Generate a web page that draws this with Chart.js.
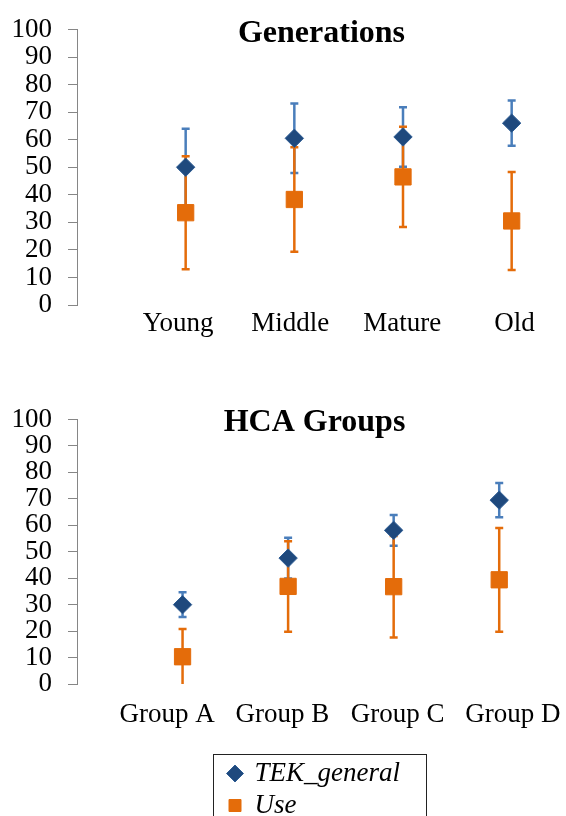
<!DOCTYPE html>
<html><head><meta charset="utf-8">
<script src="https://cdn.jsdelivr.net/npm/chart.js@4.4.1/dist/chart.umd.min.js"></script>
<style>
html,body{margin:0;padding:0;background:#fff;overflow:hidden;width:566px;height:816px;}
#c1{position:absolute;left:0;top:0;width:566px;height:340px;}
#c2{position:absolute;left:0;top:390px;width:566px;height:350px;}
#lg{position:absolute;left:213px;top:754px;width:212px;height:170px;border:1px solid #222;background:#fff;}
#c3{position:absolute;left:0;top:0;width:212px;height:170px;}
</style></head><body>
<canvas id="c1" width="566" height="340"></canvas>
<canvas id="c2" width="566" height="350"></canvas>
<div id="lg"><canvas id="c3" width="212" height="170"></canvas></div>
<script>
// ---- data ----
const seriesNames = ['TEK_general', 'Use'];
const yTicks = [0, 10, 20, 30, 40, 50, 60, 70, 80, 90, 100];

const genTitle = 'Generations';
const genCategories = ['Young', 'Middle', 'Mature', 'Old'];
const genTek = [50, 60.5, 61, 66];
const genTekErr = [14, 12.6, 10.8, 8.2];
const genUse = [33.5, 38.3, 46.5, 30.5];
const genUseErr = [20.5, 19, 18.2, 17.8];

const hcaTitle = 'HCA Groups';
const hcaCategories = ['Group A', 'Group B', 'Group C', 'Group D'];
const hcaTek = [30, 47.6, 58.1, 69.5];
const hcaTekErr = [4.7, 7.7, 5.8, 6.5];
const hcaUse = [10.3, 36.9, 36.8, 39.4];
const hcaUseErr = [10.5, 17.1, 19.2, 19.6];

// ---- styles ----
const TEK_FILL = '#1F497D', TEK_BORDER = '#2D5C93', TEK_ERR = '#4A7EBB';
const USE_FILL = '#E46C0A', USE_ERR = '#E46C0A';
const AXIS_GREY = '#868686';
const FONT = 'Liberation Serif';
const LABEL_SIZE = 27;
Chart.defaults.font.family = FONT;

const errorBars = {
  id: 'errorBars',
  beforeDatasetsDraw(chart) {
    const ctx = chart.ctx, xs = chart.scales.x, ys = chart.scales.y;
    ctx.save();
    ctx.lineWidth = 2.5;
    ctx.lineCap = 'butt';
    chart.data.datasets.forEach(ds => {
      if (!ds.errors) return;
      ctx.strokeStyle = ds.errColor;
      ds.data.forEach((p, i) => {
        const e = ds.errors[i];
        const lo = p.y - e, hi = p.y + e;
        const px = xs.getPixelForValue(p.x);
        const loC = Math.max(lo, ys.min), hiC = Math.min(hi, ys.max);
        ctx.beginPath();
        ctx.moveTo(px, ys.getPixelForValue(loC));
        ctx.lineTo(px, ys.getPixelForValue(hiC));
        if (lo >= ys.min) { const py = ys.getPixelForValue(lo); ctx.moveTo(px - 4, py); ctx.lineTo(px + 4, py); }
        if (hi <= ys.max) { const py = ys.getPixelForValue(hi); ctx.moveTo(px - 4, py); ctx.lineTo(px + 4, py); }
        ctx.stroke();
      });
    });
    ctx.restore();
  }
};

function noPad(s) { s.paddingLeft = 0; s.paddingRight = 0; }

function makeChart(id, cfg) {
  return new Chart(document.getElementById(id), {
    type: 'scatter',
    data: {
      datasets: [
        { label: seriesNames[0], data: cfg.tek.map((v, i) => ({ x: i + 1, y: v })), errors: cfg.tekErr, errColor: TEK_ERR,
          pointStyle: 'rectRot', radius: 9.2, backgroundColor: TEK_FILL, borderColor: TEK_BORDER, borderWidth: 1 },
        { label: seriesNames[1], data: cfg.use.map((v, i) => ({ x: i + 1, y: v })), errors: cfg.useErr, errColor: USE_ERR,
          pointStyle: 'rect', radius: 11.5, backgroundColor: USE_FILL, borderColor: USE_FILL, borderWidth: 1 }
      ]
    },
    options: {
      responsive: false, animation: false, events: [],
      layout: { autoPadding: false, padding: { left: 0, right: cfg.padRight, top: 0, bottom: 0 } },
      plugins: {
        legend: { display: false }, tooltip: { enabled: false },
        title: { display: true, text: cfg.title, fullSize: false, color: '#000',
          font: { family: FONT, size: 32, weight: 'bold', lineHeight: 1 },
          padding: { top: cfg.tTop, bottom: cfg.tBottom } }
      },
      scales: {
        x: { type: 'linear', min: 0, max: 4.5, display: false, afterFit: noPad },
        xl: { type: 'linear', position: 'bottom', min: cfg.lMin, max: cfg.lMax,
          grid: { display: false }, border: { display: false },
          afterBuildTicks: s => { s.ticks = cfg.categories.map((c, i) => ({ value: i + 1 })); },
          afterFit: s => { s.height = cfg.xh; noPad(s); },
          ticks: { autoSkip: false, maxRotation: 0, minRotation: 0, padding: cfg.lPad, color: '#000',
            font: { size: LABEL_SIZE, lineHeight: 1 }, callback: v => cfg.categories[v - 1] ?? '' } },
        y: { type: 'linear', position: 'left', min: 0, max: 100,
          afterBuildTicks: s => { s.ticks = yTicks.map(v => ({ value: v })); },
          afterFit: s => { s.width = 77; },
          grid: { drawOnChartArea: false, drawTicks: true, tickLength: 9, color: AXIS_GREY, lineWidth: 1 },
          border: { display: true, color: AXIS_GREY, width: 1 },
          ticks: { autoSkip: false, padding: 16, color: '#000', font: { size: LABEL_SIZE, lineHeight: 1 } } }
      }
    },
    plugins: [errorBars]
  });
}

makeChart('c1', { title: genTitle, categories: genCategories, tek: genTek, tekErr: genTekErr, use: genUse, useErr: genUseErr,
  padRight: 0, tTop: 11, tBottom: -20.5, lMin: 0.098, lMax: 4.46, lPad: -2.5, xh: 35 });
makeChart('c2', { title: hcaTitle, categories: hcaCategories, tek: hcaTek, tekErr: hcaTekErr, use: hcaUse, useErr: hcaUseErr,
  padRight: 14, tTop: 13, tBottom: -19, lMin: 0.219, lMax: 4.339, lPad: 9, xh: 56 });

new Chart(document.getElementById('c3'), {
  type: 'scatter',
  data: { datasets: [
    { label: seriesNames[0], data: [], pointStyle: 'rectRot', backgroundColor: TEK_FILL, borderColor: TEK_BORDER, borderWidth: 1 },
    { label: seriesNames[1], data: [], pointStyle: 'rect', backgroundColor: USE_FILL, borderColor: USE_FILL, borderWidth: 1 }
  ] },
  options: {
    responsive: false, animation: false, events: [],
    layout: { autoPadding: false, padding: { left: 10, top: 0, right: 0, bottom: 0 } },
    scales: { x: { display: false }, y: { display: false } },
    plugins: {
      tooltip: { enabled: false },
      legend: { display: true, position: 'top', align: 'start', maxHeight: 120,
        labels: { usePointStyle: true, boxHeight: 12, boxWidth: 12, padding: 5, color: '#000',
          font: { family: FONT, size: LABEL_SIZE, style: 'italic', lineHeight: 1 } } }
    }
  }
});
</script>
</body></html>
